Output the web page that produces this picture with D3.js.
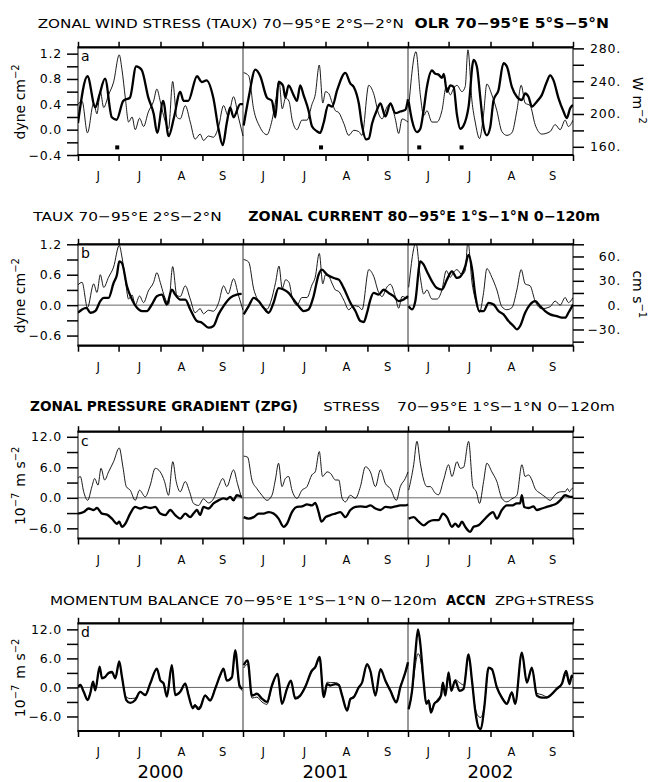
<!DOCTYPE html>
<html>
<head>
<meta charset="utf-8">
<script src="https://cdn.jsdelivr.net/npm/d3@7"></script>
<style>
  body { margin: 0; background: #fff; }
  svg { font-family: "DejaVu Sans", sans-serif; }
</style>
</head>
<body>
<svg id="chart" width="651" height="782"></svg>
<script>
// ---- data (days since 1 June, value), one list per season ----
const years = ["2000", "2001", "2002"];
const monthLabels = ["J", "J", "A", "S"];
const monthStarts = [0, 30, 61, 92];
const seasonLength = 122;

// zonal wind stress, dyne cm-2 (thin line, panels a and b)
const taux = [
  [[0,0.40],[3,0.45],[7,-0.05],[11.6,0.42],[14,0.25],[16.5,0.6],[19,0.35],[22.6,0.55],[26.3,0.75],[30.5,1.18],[32.5,0.95],[35,0.5],[37.4,0.12],[40,0.2],[42.3,0.0],[45.5,0.18],[48.5,0.05],[52,0.28],[55.9,0.45],[58.3,0.64],[60.8,0.45],[63.3,0.22],[67,0.02],[70,0.76],[73,0.2],[75.6,0.17],[79.3,0.38],[83,0.12],[86.6,-0.15],[90.3,-0.07],[92.8,-0.17],[96.5,-0.1],[100,-0.12],[104,0.05],[107.6,0.38],[111,0.22],[115,0.52],[118.6,0.2],[122,-0.1]],
  [[0.5,0.9],[4.2,0.85],[7.9,0.32],[12.3,0.05],[17.7,-0.08],[20.7,0.08],[24.1,0.45],[26.6,0.77],[29,0.33],[31.5,0.5],[34,0.45],[36.4,0.15],[39.9,0.0],[43.6,0.15],[47.3,0.15],[51,0.4],[53.4,0.55],[56.4,1.02],[59,0.42],[61,0.6],[63.4,0.57],[66,0.42],[68.3,0.3],[70.8,0.27],[74.5,0.1],[78.2,-0.09],[81.9,-0.01],[85.6,-0.03],[88,-0.09],[93,0.7],[96.6,0.57],[100.3,0.25],[102.8,0.17],[106.5,0.36],[109,0.41],[112.6,0.17],[115.1,-0.06],[117.6,0.17],[120,0.15],[122,0.12]],
  [[0.5,0.35],[5.9,1.23],[9.1,0.55],[11.6,0.22],[14,0.3],[17.7,0.12],[21.4,0.12],[25.1,0.3],[28.3,0.68],[31.3,0.55],[33.7,0.65],[36.2,0.7],[39.9,0.6],[42.3,0.68],[44.3,1.26],[47.3,0.45],[49.7,0.12],[52.9,-0.14],[55.9,0.25],[58.3,0.72],[62,0.55],[65.7,0.3],[69.4,-0.03],[73.1,-0.09],[76.8,-0.05],[80.5,0.3],[83.7,0.7],[86.6,0.42],[90.3,0.38],[94,0.08],[98.9,-0.07],[105.1,-0.03],[108.8,0.08],[112.5,0.0],[116.2,0.15],[118.6,0.05],[122,0.15]]
];

// OLR, W m-2 (thick line, panel a)
const olr = [
  [[0,189],[7,246],[12.8,208],[15.8,223],[20,243],[25,196],[28.5,193],[33.5,216],[38.4,220],[43,258],[47,254],[52,220],[56,200],[58.5,177],[63,216],[67,173],[71,196],[75.6,227],[78,216],[81.5,216],[88,246],[91.5,239],[95,241],[100,220],[104,181],[107,162],[110,189],[112.5,208],[115,196],[120,212],[122,212]],
  [[0.5,186],[4.2,220],[9.1,254],[12.8,246],[17.7,220],[21.4,216],[23.9,196],[26.3,239],[29.5,235],[31.3,220],[33.7,235],[37.4,223],[39.9,216],[42.3,235],[44.8,223],[48.5,204],[51,185],[54.6,179],[57,177],[59.6,189],[63,211],[65.9,209],[69.6,229],[75.7,250],[79.4,237],[81.9,233],[85.6,213],[88,186],[91,169],[93,170],[95.4,188],[99.1,205],[101.6,213],[105.3,197],[109,213],[112.6,201],[116.3,203],[120,205],[122,218]],
  [[0.5,215],[3,192],[6.6,178],[9.1,182],[11.6,205],[14,233],[17.7,253],[20.2,249],[22.6,248],[25.1,244],[26.5,249],[28.8,227],[31.3,235],[33.7,233],[36.2,199],[38.6,182],[41.1,186],[44.8,209],[48.5,266],[50.9,258],[53.4,221],[55.9,184],[58.3,174],[60.8,184],[63.3,217],[66.9,229],[70.6,262],[73.1,258],[76.8,233],[80.5,221],[84.2,217],[86.6,225],[89.1,221],[91.6,209],[95.2,215],[98.9,223],[102.6,239],[105.1,247],[107.6,241],[111.3,219],[115,203],[117.4,195],[119.9,207],[122,211]]
];
// days with a marker under the OLR curve: [season, day]
const olrEvents = [[0, 29], [1, 57.7], [2, 8.3], [2, 39.6]];

// zonal current 80-95E, cm s-1 (thick line, panel b)
const current = [
  [[0,-9.4],[3,-5.3],[6.2,-3.3],[9.1,-9.4],[12.8,-7.3],[16.5,4.9],[19,9],[22.6,9],[26.3,27.3],[28.8,37.5],[30.5,53.9],[32.5,51.8],[36.2,23.3],[39.9,6.9],[43.6,-3.3],[47.3,-7.3],[50.9,-7.3],[54.6,0.8],[58.3,11],[62,13],[65.7,0.8],[69.4,19.2],[71.9,13],[75.6,6.9],[79.3,6.9],[83,-5.3],[87.9,-19.6],[91.6,-21.6],[96.5,-27.8],[100.2,-25.7],[103.9,-11.4],[107.6,-1.2],[112.5,9],[117.4,13],[121,13.9]],
  [[0.5,-11.4],[4.2,-1.2],[7.9,9],[11.6,4.9],[15.3,-3.3],[19,-9.4],[22.6,2.9],[26.3,21],[30,19.2],[33.7,15.1],[37.4,6.9],[41.1,-1.2],[44.8,-7.3],[48.5,-5.3],[52.2,11],[55.9,37.5],[58.3,43.7],[62.2,37.5],[67.1,33.5],[70.8,31.4],[74.5,21],[79.4,2.9],[83.1,-7.3],[86.8,-19.6],[89.3,-20.8],[91.7,-9.4],[94.2,6.9],[96.6,15],[100.3,13],[104,19],[107.7,15],[111.4,11],[115.1,4.9],[118.8,6.9],[122,11]],
  [[0.5,-1.2],[3,-5.3],[5.4,4.9],[9.1,53.9],[11.6,49.8],[14,41.6],[17.7,29.4],[21.4,21],[25.1,19.2],[28.8,31.4],[32.5,41.6],[36.2,33.5],[38.6,35],[42.3,47.8],[44.8,62],[47.3,45.7],[49.7,13],[52.9,-7.3],[55.9,-7.3],[59.6,2.9],[63.3,0.8],[66.9,-7.3],[70.6,-11.4],[74.3,-19.6],[78,-25.7],[80.5,-29.8],[82.9,-25.7],[86.6,-9.4],[90.3,0.8],[94,4.9],[97.7,-1.2],[101.4,-7.3],[105.1,-11.4],[110,-13.5],[113.7,-15.5],[116.2,-15.5],[118.6,-9.4],[122,0.8]]
];

// stress term, 1e-7 m s-2 (thin line, panel c)
const stress = [
  [[0,3.8],[1.7,4.2],[4.2,1.2],[7.1,-0.5],[10.3,2.2],[12.3,3.8],[14.8,2.5],[17,5.8],[19.7,3.5],[22.6,5.1],[26.3,7.1],[30.5,9.8],[33.2,6.1],[35.7,2.2],[38.6,1.5],[42.3,-0.5],[45.5,1.5],[49.7,0.2],[53.4,2.5],[57.1,5.8],[60.8,5.1],[64,3.2],[66.9,0.5],[70.1,7.1],[72.6,3.2],[75.6,1.2],[79.3,3.2],[82.5,1.2],[85.4,-1.1],[89.1,-1.5],[92.8,-0.2],[96.5,-1.0],[100.2,-0.2],[103.9,2.2],[107.1,3.8],[110,2.2],[115,5.5],[117.9,2.8],[121,-0.1]],
  [[0.5,8.2],[3.4,8.0],[6.6,3.5],[10.3,1.8],[14,0.5],[17.7,-0.5],[21.4,0.5],[23.9,3.5],[26.3,6.8],[28.8,2.2],[31.3,3.8],[33.7,4.2],[36.2,1.5],[39.9,-0.1],[43.6,1.5],[47.3,2.2],[50.9,4.5],[53.4,5.1],[56.4,9.1],[58.8,4.2],[62.2,5.1],[64.7,4.8],[68.4,3.5],[70.8,3.5],[73.3,-0.1],[75.7,-0.8],[79.4,0.5],[83.1,-0.1],[86.8,2.2],[90.5,6.1],[94.2,5.1],[97.9,2.2],[101.6,5.5],[105.3,2.8],[109,1.8],[113.4,-0.5],[116.3,2.2],[120,3.8],[122,5.1]],
  [[0.5,1.5],[4.2,6.5],[6.6,11.1],[9.1,6.8],[11.6,3.5],[14,2.2],[16.5,2.2],[20.2,0.9],[22.6,0.6],[26.3,3.5],[30,6.5],[32.5,4.2],[36.2,7.1],[38.6,5.8],[41.1,6.0],[44.8,11.1],[48,2.2],[50.5,1.2],[52.9,-1.1],[55.9,3.2],[58.3,6.8],[62,5.1],[65.7,3.2],[69.4,-0.1],[73.1,-0.8],[76.8,-0.2],[80.5,0.5],[84.2,6.5],[86.6,4.2],[89.1,4.5],[91.6,3.5],[94,1.8],[97.7,0.9],[101.4,0.2],[105.1,-0.5],[107.6,0.2],[110,0.9],[113.7,1.2],[116.2,1.2],[117.9,1.8],[119.4,1.2],[121.1,1.8],[122,1.9]]
];

// zonal pressure gradient, 1e-7 m s-2 (thick line, panel c)
const zpg = [
  [[0,-3.1],[4.2,-2.8],[7.9,-2.1],[11.6,-2.4],[14,-2.0],[17.7,-3.1],[21.4,-3.3],[25.1,-4.1],[28.8,-5.1],[30.5,-4.7],[32.5,-5.7],[35,-5.1],[38.6,-3.1],[42.3,-1.8],[46,-2.1],[49.7,-1.8],[53.4,-2.0],[57.1,-1.8],[60.8,-3.1],[64.5,-3.4],[68.2,-2.4],[71.9,-3.4],[75.6,-4.1],[79.3,-3.1],[82.9,-3.8],[85.4,-3.1],[87.9,-2.4],[90.3,-3.4],[92.8,-1.8],[96.5,-2.1],[100.2,-1.1],[103.9,-0.5],[107.6,-0.1],[110,-0.3],[112.5,0.2],[115,-0.5],[117.4,0.5],[121,0.2]],
  [[0.5,-3.8],[4.2,-4.1],[7.9,-3.8],[11.6,-3.1],[15.3,-3.1],[19,-2.8],[22.6,-3.1],[26.3,-4.1],[30,-5.7],[32.5,-5.1],[36.2,-2.8],[39.9,-1.8],[43.6,-1.7],[47.3,-1.3],[50.9,-1.5],[53.4,-1.0],[55.9,-2.8],[58,-4.7],[61,-3.8],[64.7,-3.4],[68.3,-3.1],[72,-2.8],[75.7,-3.8],[79.4,-2.4],[83.1,-1.8],[86.8,-1.7],[90.5,-1.8],[94.2,-1.5],[97.9,-2.1],[101.6,-2.4],[105.3,-1.8],[109,-1.9],[112.6,-1.7],[116.3,-1.5],[120,-1.5],[122,-1.3]],
  [[0.5,-4.1],[4.2,-3.8],[7.9,-4.7],[11.6,-5.4],[15.3,-4.7],[19,-4.4],[22.6,-4.4],[25.8,-3.1],[28.8,-3.8],[32.5,-5.7],[34.9,-5.1],[37.4,-5.7],[39.9,-4.7],[42.3,-5.7],[46,-6.7],[48.5,-5.7],[52.2,-5.4],[55.9,-4.4],[59.6,-3.4],[62.8,-2.8],[65.7,-4.1],[69.4,-2.4],[73.1,-1.5],[76.8,-1.5],[80.5,-1.1],[82.9,-1.1],[84.2,0.5],[85.9,-1.8],[89.1,-2.0],[92.8,-1.7],[95.2,-2.4],[98.9,-2.1],[102.6,-1.8],[106.3,-1.5],[110,-1.1],[112.5,-0.5],[116.2,0.5],[119.9,0.2],[122,0.2]]
];

// acceleration, 1e-7 m s-2 (thick line, panel d)
const accn = [
  [[0,0.1],[1.7,0.5],[4.2,-0.9],[7.1,-2.6],[9.1,-1.2],[11.1,1.2],[12.8,-0.6],[16,4.3],[17.7,1.9],[20.2,2.2],[22.6,3.0],[25.1,3.2],[27.6,1.9],[30.5,5.4],[32.5,2.2],[35.7,-2.6],[38.6,-3.2],[42.3,-2.6],[46,-0.9],[49.7,-1.6],[53.4,0.8],[58.3,3.9],[60.8,1.5],[63.3,0.8],[65.7,-1.9],[69.4,4.6],[71.9,-1.6],[75.6,-0.9],[79.3,0.8],[81.7,-1.6],[84.9,-4.3],[86.5,-3.7],[89,-4.5],[90.3,-4.2],[94,-1.7],[97.7,-2.7],[101.4,-0.3],[105.1,2.5],[107.6,3.9],[110,1.4],[113.8,2.1],[116.2,7.7],[119.4,0.4],[121.5,-0.3]],
  [[0.5,4.6],[3.4,5.6],[6.6,-1.7],[10.3,-1.3],[14,-2.3],[17.7,-3.0],[21.4,0.4],[25.6,2.8],[28.8,-3.4],[32.5,-0.3],[35.4,1.4],[38.6,-2.3],[42.3,-1.7],[46,0.1],[51,3.5],[53.4,4.2],[56.6,6.3],[59.7,-2.0],[62.2,0.7],[64.7,0.4],[68.3,0.7],[70.8,0.5],[73.3,-1.7],[77,-4.8],[79.4,-2.4],[81.9,-2.0],[85.6,0.0],[88,1.0],[91.7,4.8],[94.2,3.4],[97.9,-1.7],[101.6,3.8],[105.3,1.4],[109,-0.7],[113.4,-3.1],[116.3,0.0],[120,3.1],[122,5.2]],
  [[0.5,-4.5],[3,-0.7],[5.4,6.9],[7.4,12.0],[9.1,9.0],[11.6,1.0],[13.5,-3.4],[15.3,-2.8],[17,-5.2],[19.4,-3.4],[21.9,-2.8],[24.4,-1.7],[25.8,1.0],[27.6,-1.7],[30,3.1],[32,-0.7],[34.9,1.4],[38.1,-0.7],[41.1,-0.3],[44.8,6.8],[47.3,1.4],[49.7,-4.8],[52.2,-8.3],[53.9,-8.6],[56.4,-4.1],[59.6,4.1],[62,3.8],[65.7,0.0],[69.4,-2.1],[73.1,-3.4],[76.8,-1.0],[79.2,-3.4],[84.2,7.2],[87.9,1.0],[91.6,4.1],[95.3,-1.7],[99,-2.1],[102.6,-2.1],[106.3,-1.4],[110,-0.3],[113.7,0.7],[116.9,3.4],[119.4,0.7],[121.1,2.4],[122,2.0]]
];

// ZPG + stress, 1e-7 m s-2 (thin line, panel d)
const zpgPlusStress = [
  [[0,0.2],[1.7,0.6],[4.2,-0.8],[7.1,-2.3],[9.1,-1.0],[11.1,1.0],[12.8,-0.4],[16,4.0],[17.7,2.1],[20.2,2.3],[22.6,2.8],[25.1,3.0],[27.6,2.0],[30.5,5.0],[32.5,2.0],[35.7,-2.0],[38.6,-2.3],[42.3,-2.2],[46,-0.8],[49.7,-1.4],[53.4,0.9],[58.3,3.6],[60.8,1.6],[63.3,1.0],[65.7,-1.6],[69.4,4.3],[71.9,-1.4],[75.6,-0.7],[79.3,0.9],[81.7,-1.4],[84.9,-4.0],[86.5,-3.5],[89,-4.1],[90.3,-3.9],[94,-1.5],[97.7,-2.5],[101.4,-0.1],[105.1,2.3],[107.6,3.6],[110,1.5],[113.8,2.0],[116.2,6.8],[119.4,0.0],[121.5,-0.6]],
  [[0.5,4.0],[3.4,4.8],[6.6,-2.2],[10.3,-2.0],[14,-3.0],[17.7,-3.5],[21.4,0.2],[25.6,2.6],[28.8,-3.1],[32.5,-0.2],[35.4,1.3],[38.6,-2.0],[42.3,-1.5],[46,0.3],[51,3.3],[53.4,4.0],[56.6,5.8],[59.7,-1.6],[62.2,1.1],[64.7,1.0],[68.3,1.0],[70.8,0.7],[73.3,-1.5],[77,-4.5],[79.4,-2.2],[81.9,-1.9],[85.6,0.2],[88,1.0],[91.7,4.5],[94.2,3.2],[97.9,-1.4],[101.6,3.5],[105.3,1.5],[109,-0.5],[113.4,-2.8],[116.3,0.2],[120,2.9],[122,4.6]],
  [[0.5,-4.5],[3,-0.9],[5.4,4.5],[7.4,7.0],[9.1,6.0],[11.6,1.0],[13.5,-3.0],[15.3,-2.5],[17,-4.5],[19.4,-3.5],[21.9,-2.4],[24.4,-1.4],[25.8,1.1],[27.6,-1.4],[30,3.0],[32,-0.4],[34.9,1.6],[38.1,1.0],[41.1,0.5],[44.8,6.5],[47.3,1.3],[49.7,-4.2],[52.2,-6.0],[53.9,-6.2],[56.4,-3.8],[59.6,3.9],[62,3.6],[65.7,0.2],[69.4,-1.9],[73.1,-3.2],[76.8,-0.9],[79.2,-3.1],[84.2,6.8],[87.9,1.2],[91.6,3.8],[95.3,-1.2],[99,-1.5],[102.6,-1.9],[106.3,-1.2],[110,-0.1],[113.7,0.9],[116.9,2.6],[119.4,1.0],[121.1,2.6],[122,2.3]]
];

// tick values
const tauxTicksA = [1.2, 0.8, 0.4, 0.0, -0.4], tauxMinorA = [1.0, 0.6, 0.2, -0.2];
const olrTicks = [280, 240, 200, 160], olrMinor = [260, 220, 180];
const tauxTicksB = [1.2, 0.6, 0.0, -0.6], tauxMinorB = [0.9, 0.3, -0.3];
const currentTicks = [60, 30, 0, -30], currentMinor = [75, 45, 15, -15, -45];
const accTicks = [12, 6, 0, -6], accMinor = [9, 3, -3];

// ---- drawing ----
const svg = d3.select("#chart");
const x = d3.scaleLinear().domain([0, 3 * seasonLength]).range([78, 573]);
const monthTicks = d3.range(3)
  .flatMap((k) => monthStarts.map((m) => k * seasonLength + m))
  .concat([3 * seasonLength]);

const fmt1 = d3.format(".1f");
const fmtDot = (d) => d3.format("d")(d) + ".";

function styleAxis(g, fontSize) {
  g.select(".domain").remove();
  g.selectAll("line").attr("stroke", "#000").attr("stroke-width", 1.5);
  g.selectAll("text")
    .attr("font-family", "DejaVu Sans, sans-serif")
    .attr("font-size", fontSize)
    .attr("letter-spacing", 0.8)
    .attr("fill", "#000");
}

function drawPanel(p) {
  const y = d3.scaleLinear().domain(p.domain).range([p.bottom, p.top]);
  const g = svg.append("g");
  const clipId = "clip" + p.letter;
  g.append("clipPath").attr("id", clipId)
    .append("rect").attr("x", x(0)).attr("y", p.top)
    .attr("width", x(3 * seasonLength) - x(0)).attr("height", p.bottom - p.top);

  // zero line and season separators
  if (p.zero) {
    g.append("line").attr("x1", x(0)).attr("x2", x(3 * seasonLength))
      .attr("y1", y(0)).attr("y2", y(0))
      .attr("stroke", "#666").attr("stroke-width", 1);
  }
  [seasonLength, 2 * seasonLength].forEach((d) => {
    g.append("line").attr("x1", x(d)).attr("x2", x(d))
      .attr("y1", p.top).attr("y2", p.bottom)
      .attr("stroke", "#555").attr("stroke-width", 1.2);
  });

  // series
  const lines = g.append("g").attr("clip-path", `url(#${clipId})`);
  p.series.forEach((s) => {
    const ys = s.scale || y;
    s.data.forEach((seg, k) => {
      const line = d3.line()
        .x((d) => x(k * seasonLength + d[0]))
        .y((d) => ys(d[1]))
        .curve(d3.curveMonotoneX);
      lines.append("path").datum(seg).attr("d", line)
        .attr("fill", "none").attr("stroke", "#000")
        .attr("stroke-width", s.width).attr("stroke-linejoin", "round");
    });
  });

  // frame
  g.append("rect").attr("x", x(0)).attr("y", p.top)
    .attr("width", x(3 * seasonLength) - x(0)).attr("height", p.bottom - p.top)
    .attr("fill", "none").attr("stroke", "#000").attr("stroke-width", 1);
  [p.top, p.bottom].forEach((yy) => {
    g.append("line").attr("x1", x(0) - 0.5).attr("x2", x(3 * seasonLength) + 0.5)
      .attr("y1", yy).attr("y2", yy).attr("stroke", "#000").attr("stroke-width", 2.2);
  });

  // month ticks top and bottom
  g.append("g").attr("transform", `translate(0,${p.top})`)
    .call(d3.axisTop(x).tickValues(monthTicks).tickSize(5.5).tickFormat(""))
    .call((a) => styleAxis(a, 12));
  g.append("g").attr("transform", `translate(0,${p.bottom})`)
    .call(d3.axisBottom(x).tickValues(monthTicks).tickSize(6).tickFormat(""))
    .call((a) => styleAxis(a, 12));

  // month letters
  d3.range(3).forEach((k) => {
    monthLabels.forEach((m, i) => {
      const a = monthStarts[i];
      const b = i < 3 ? monthStarts[i + 1] : seasonLength;
      g.append("text").attr("x", x(k * seasonLength + (a + b) / 2)).attr("y", p.bottom + 25)
        .attr("text-anchor", "middle").attr("font-size", 11.5).text(m);
    });
  });

  // left axis
  g.append("g").attr("transform", `translate(${x(0)},0)`)
    .call(d3.axisLeft(y).tickValues(p.ticks).tickSize(11).tickPadding(5).tickFormat(fmt1))
    .call((a) => styleAxis(a, 12.5));
  g.append("g").attr("transform", `translate(${x(0)},0)`)
    .call(d3.axisLeft(y).tickValues(p.minor).tickSize(11).tickFormat(""))
    .call((a) => styleAxis(a, 12.5));

  // right axis
  const rScale = p.right ? p.right.scale : y;
  const rTicks = p.right ? p.right.ticks : p.ticks.concat(p.minor);
  const rAxis = g.append("g").attr("transform", `translate(${x(3 * seasonLength)},0)`)
    .call(d3.axisRight(rScale).tickValues(rTicks).tickSize(11)
      .tickFormat(p.right ? fmtDot : ""))
    .call((a) => styleAxis(a, 12.5));
  rAxis.selectAll("text").attr("text-anchor", "end").attr("x", 48);
  if (p.right) {
    g.append("g").attr("transform", `translate(${x(3 * seasonLength)},0)`)
      .call(d3.axisRight(rScale).tickValues(p.right.minor).tickSize(11).tickFormat(""))
      .call((a) => styleAxis(a, 12.5));
  }

  // panel letter
  g.append("text").attr("x", 81).attr("y", p.top + 14).attr("font-size", 14).text(p.letter);

  // axis titles
  const mid = (p.top + p.bottom) / 2;
  const lt = g.append("text").attr("transform", `translate(25,${mid}) rotate(-90)`)
    .attr("text-anchor", "middle").attr("font-size", 14);
  p.leftTitle.forEach((t) => addPart(lt, t));
  if (p.right) {
    const rt = g.append("text").attr("transform", `translate(633,${mid}) rotate(90)`)
      .attr("text-anchor", "middle").attr("font-size", 14);
    p.right.title.forEach((t) => addPart(rt, t));
  }
  return { g, y };
}

function addPart(textSel, t) {
  if (t.sup) {
    textSel.append("tspan").attr("dy", -6).attr("font-size", 10).text(t.sup);
    textSel.append("tspan").attr("dy", 6).text("\u200a");
  } else {
    textSel.append("tspan").text(t.txt);
  }
}

// panel a
const olrScale = d3.scaleLinear().domain([150, 281.3]).range([155, 47.3]);
const pa = drawPanel({
  letter: "a", top: 47.3, bottom: 155, domain: [-0.4, 1.3], zero: false,
  ticks: tauxTicksA, minor: tauxMinorA,
  series: [{ data: taux, width: 0.9 }, { data: olr, width: 2.3, scale: olrScale }],
  right: { scale: olrScale, ticks: olrTicks, minor: olrMinor,
    title: [{ txt: "W m" }, { sup: "\u22122" }] },
  leftTitle: [{ txt: "dyne cm" }, { sup: "\u22122" }]
});
olrEvents.forEach(([k, d]) => {
  pa.g.append("rect").attr("x", x(k * seasonLength + d) - 2).attr("y", pa.y(-0.28) - 2)
    .attr("width", 4).attr("height", 4).attr("fill", "#000");
});

// panel b
const curScale = d3.scaleLinear().domain([-50, 75]).range([345.7, 244.3]);
drawPanel({
  letter: "b", top: 244.3, bottom: 345.7, domain: [-0.8, 1.2], zero: true,
  ticks: tauxTicksB, minor: tauxMinorB,
  series: [{ data: taux, width: 0.9 }, { data: current, width: 2.3, scale: curScale }],
  right: { scale: curScale, ticks: currentTicks, minor: currentMinor,
    title: [{ txt: "cm s" }, { sup: "\u22121" }] },
  leftTitle: [{ txt: "dyne cm" }, { sup: "\u22122" }]
});

// panel c
drawPanel({
  letter: "c", top: 431.7, bottom: 538.5, domain: [-8, 13], zero: true,
  ticks: accTicks, minor: accMinor,
  series: [{ data: stress, width: 0.9 }, { data: zpg, width: 2.3 }],
  leftTitle: [{ txt: "10" }, { sup: "\u22127" }, { txt: " m s" }, { sup: "\u22122" }]
});

// panel d
drawPanel({
  letter: "d", top: 623.3, bottom: 731, domain: [-9, 13.25], zero: true,
  ticks: accTicks, minor: accMinor,
  series: [{ data: zpgPlusStress, width: 0.9 }, { data: accn, width: 2.3 }],
  leftTitle: [{ txt: "10" }, { sup: "\u22127" }, { txt: " m s" }, { sup: "\u22122" }]
});

// titles
const titles = [
  { y: 28.3, parts: [
    { t: "ZONAL WIND STRESS (TAUX) 70\u221295\u00b0E 2\u00b0S\u22122\u00b0N", x0: 37.7, x1: 404 },
    { t: "OLR 70\u221295\u00b0E 5\u00b0S\u22125\u00b0N", x0: 414.5, x1: 609, bold: true }] },
  { y: 220.7, parts: [
    { t: "TAUX 70\u221295\u00b0E 2\u00b0S\u22122\u00b0N", x0: 33.3, x1: 221.7 },
    { t: "ZONAL CURRENT 80\u221295\u00b0E 1\u00b0S\u22121\u00b0N 0\u2212120m", x0: 248.3, x1: 600, bold: true }] },
  { y: 410.5, parts: [
    { t: "ZONAL PRESSURE GRADIENT (ZPG)", x0: 30, x1: 298, bold: true },
    { t: "STRESS", x0: 323.3, x1: 380 },
    { t: "70\u221295\u00b0E 1\u00b0S\u22121\u00b0N 0\u2212120m", x0: 397, x1: 615 }] },
  { y: 605, parts: [
    { t: "MOMENTUM BALANCE 70\u221295\u00b0E 1\u00b0S\u22121\u00b0N 0\u2212120m", x0: 50, x1: 436.7 },
    { t: "ACCN", x0: 446, x1: 485.7, bold: true },
    { t: "ZPG+STRESS", x0: 495, x1: 594 }] }
];
titles.forEach((row) => {
  row.parts.forEach((p) => {
    svg.append("text").attr("x", p.x0).attr("y", row.y)
      .attr("font-size", p.bold ? 13.5 : 13)
      .attr("font-weight", p.bold ? "bold" : "normal")
      .attr("textLength", p.x1 - p.x0).attr("lengthAdjust", "spacingAndGlyphs")
      .text(p.t);
  });
});

// year labels
years.forEach((yr, k) => {
  svg.append("text").attr("x", x(k * seasonLength + seasonLength / 2)).attr("y", 777.5)
    .attr("text-anchor", "middle").attr("font-size", 18).text(yr);
});
</script>
</body>
</html>
